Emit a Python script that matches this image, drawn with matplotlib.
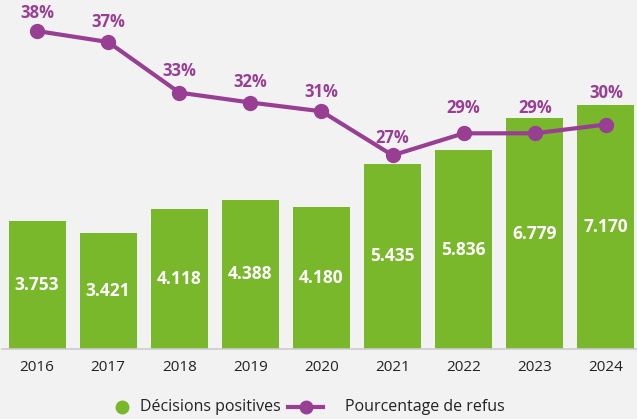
import matplotlib
matplotlib.use("Agg")
import matplotlib.pyplot as plt
from matplotlib.lines import Line2D

years = ["2016", "2017", "2018", "2019", "2020", "2021", "2022", "2023", "2024"]
decisions = [3753, 3421, 4118, 4388, 4180, 5435, 5836, 6779, 7170]
refus_pct = [38.4, 37.4, 32.8, 31.9, 31.1, 27.1, 29.1, 29.1, 29.9]
legend_labels = ["Décisions positives", "Pourcentage de refus"]

GREEN = "#79b72b"
PURPLE = "#983f94"
BG = "#f2f2f2"
TXT = "#222222"
# vertical offset (in points) of each percentage label above its marker
label_offsets = [18, 20, 21.5, 21, 19.5, 17, 25, 25, 31.5]
plt.rcParams['font.family'] = ['Open Sans', 'DejaVu Sans']

W, H = 637, 419
fig = plt.figure(figsize=(W / 100, H / 100), dpi=100, facecolor=BG)

# axes in pixel coordinates
x_left = 1.5
x_right = 641.5
y_bottom = 349
y_top = 0
ax = fig.add_axes([x_left / W, (H - y_bottom) / H, (x_right - x_left) / W, (y_bottom - y_top) / H])
ax.set_facecolor(BG)
xs = list(range(len(years)))
ax.bar(xs, decisions, width=0.8, color=GREEN, zorder=2)
ax.set_xlim(-0.5, len(years) - 0.5)
ax.set_ylim(0, 10253)
for x, v in zip(xs, decisions):
    ax.text(x, v / 2, f"{v:,}".replace(",", "."), ha="center", va="center",
            color="white", fontsize=12.5, fontweight="bold", zorder=3)

for s in ["top", "right", "left"]:
    ax.spines[s].set_visible(False)
ax.spines["bottom"].set_color("#cccccc")
ax.spines["bottom"].set_linewidth(1.2)
ax.set_yticks([])
ax.set_xticks(xs)
ax.set_xticklabels(years, fontsize=11, color=TXT)
ax.tick_params(axis="x", length=0, pad=8)

ax2 = ax.twinx()
ax2.set_ylim(9.49, 41.22)
ax2.plot(xs, refus_pct, color=PURPLE, lw=3, marker="o", ms=10, zorder=4)
for x, v, off in zip(xs, refus_pct, label_offsets):
    ax2.annotate(f"{round(v)}%", (x, v), xytext=(0, off * 0.72), textcoords="offset points",
                 ha="center", va="center", color=PURPLE, fontsize=12, fontweight="bold")
ax2.axis("off")

# legend (drawn manually to match spacing)
ly = 1 - 407 / H
fig.add_artist(Line2D([122 / W], [ly], marker="o", color=GREEN, linestyle="none",
                      markersize=9, transform=fig.transFigure))
fig.text(140 / W, ly, legend_labels[0], ha="left", va="center", fontsize=11.5, color=TXT)
fig.add_artist(Line2D([288 / W, 323 / W], [ly, ly], color=PURPLE, lw=3,
                      transform=fig.transFigure))
fig.add_artist(Line2D([305.5 / W], [ly], marker="o", color=PURPLE, linestyle="none",
                      markersize=9, transform=fig.transFigure))
fig.text(345 / W, ly, legend_labels[1], ha="left", va="center", fontsize=11.5, color=TXT)

fig.savefig("out.png", dpi=100, facecolor=BG)
